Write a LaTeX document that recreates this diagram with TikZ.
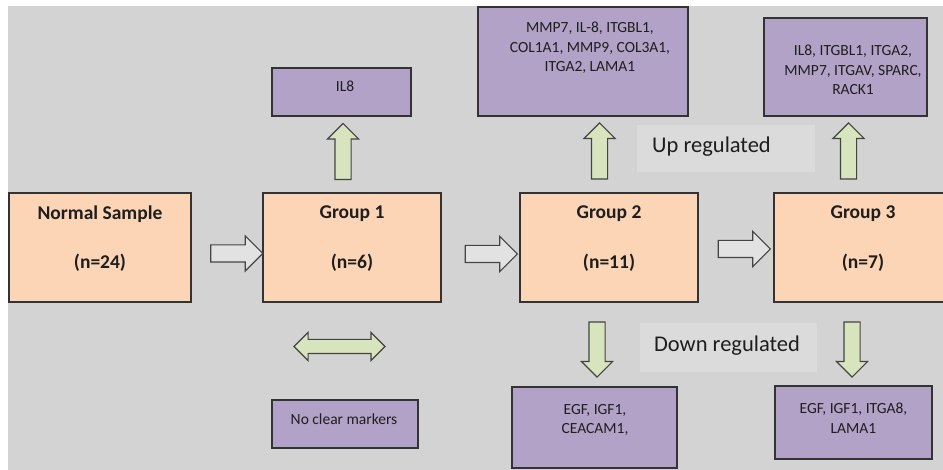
\documentclass[tikz,border=0pt]{standalone}
\usepackage{fontspec}
\setmainfont{Carlito}
\usetikzlibrary{shapes.arrows}
\definecolor{bg}{HTML}{D3D3D3}
\definecolor{peach}{HTML}{FBD5B5}
\definecolor{lilac}{HTML}{B3A2C7}
\definecolor{leaf}{HTML}{D7E4BD}
\definecolor{labfill}{HTML}{DBDBDB}
\definecolor{edgecol}{HTML}{333333}
\definecolor{arredge}{HTML}{444444}
\definecolor{hollowfill}{HTML}{E2E2E2}
\definecolor{ink}{HTML}{1E1E1E}
\begin{document}
\begin{tikzpicture}[x=1bp,y=-1bp,
  groupbox/.style={draw=edgecol, line width=1.3bp, fill=peach, inner sep=0pt},
  genebox/.style={draw=edgecol, line width=1.3bp, fill=lilac, inner sep=0pt},
  labbox/.style={fill=labfill, inner sep=0pt},
  gtxt/.style={font=\fontsize{19.5bp}{22bp}\selectfont\bfseries, text=ink, inner sep=0pt},
  genetxt/.style={font=\fontsize{15.5bp}{19.5bp}\selectfont, text=ink, align=center, inner sep=0pt, anchor=north},
  labtxt/.style={font=\fontsize{22.5bp}{24bp}\selectfont, text=ink, inner sep=0pt},
  hollow/.style={single arrow, draw=arredge, fill=hollowfill, line width=1.1bp,
    inner xsep=0pt, inner ysep=8bp, single arrow head extend=9bp, minimum height=52bp},
  greenup/.style={single arrow, draw=arredge, fill=leaf, line width=1.1bp, shape border rotate=90,
    inner ysep=0pt, inner xsep=7.5bp, single arrow head extend=7.5bp, minimum height=56bp},
  greendown/.style={greenup, shape border rotate=270, minimum height=55bp},
  greenboth/.style={double arrow, draw=arredge, fill=leaf, line width=1.1bp,
    inner xsep=0pt, inner ysep=6.5bp, double arrow head extend=7bp, minimum height=91bp}
]
\useasboundingbox (0,0) rectangle (943,470);
\clip (0,0) rectangle (943,470);
\fill[white] (0,0) rectangle (943,470);
\fill[bg] (8,6) rectangle (943,470);

% label backgrounds
\node[labbox, minimum width=178bp, minimum height=47bp] (uplab) at (726,148.5) {};
\node[labtxt] at (711.5,147) {Up regulated};
\node[labbox, minimum width=177bp, minimum height=49bp] (dnlab) at (728.5,347.5) {};
\node[labtxt] at (727,346) {Down regulated};

% main boxes
\node[groupbox, minimum width=182bp, minimum height=109bp] (ns) at (100,247.5) {};
\node[groupbox, minimum width=178bp, minimum height=109bp] (g1) at (352,247.5) {};
\node[groupbox, minimum width=178bp, minimum height=109bp] (g2) at (609,247.5) {};
\node[groupbox, minimum width=190bp, minimum height=109bp] (g3) at (869,247.5) {};
\node[gtxt] at (100,214) {Normal Sample};
\node[gtxt] at (100,263) {(n=24)};
\node[gtxt] at (352,214) {Group 1};
\node[gtxt] at (352,263) {(n=6)};
\node[gtxt] at (609,214) {Group 2};
\node[gtxt] at (609,263) {(n=11)};
\node[gtxt] at (863,214) {Group 3};
\node[gtxt] at (863,263) {(n=7)};

% gene boxes
\node[genebox, minimum width=139bp, minimum height=48bp] (il8) at (341.5,92) {};
\node[genetxt] at (345,81) {IL8};
\node[genebox, minimum width=210bp, minimum height=109bp] (up2) at (583,61.5) {};
\node[genetxt] at (590,22) {MMP7, IL-8, ITGBL1,\\COL1A1, MMP9, COL3A1,\\ITGA2, LAMA1};
\node[genebox, minimum width=163bp, minimum height=98bp] (up3) at (845.5,67) {};
\node[genetxt] at (853,45) {IL8, ITGBL1, ITGA2,\\MMP7, ITGAV, SPARC,\\RACK1};
\node[genebox, minimum width=146bp, minimum height=48bp] (ncm) at (345,424) {};
\node[genetxt] at (344,414) {No clear markers};
\node[genebox, minimum width=165bp, minimum height=81bp] (dn2) at (594.5,427.5) {};
\node[genetxt] at (595,404) {EGF, IGF1,\\CEACAM1,};
\node[genebox, minimum width=157bp, minimum height=73bp] (dn3) at (853.5,422.5) {};
\node[genetxt] at (853.5,403) {EGF, IGF1, ITGA8,\\LAMA1};

% hollow arrows between groups
\node[hollow] (a1) at (232.5,253.5) {};
\node[hollow] (a2) at (487,254) {};
\node[hollow] (a3) at (740,249) {};

% green arrows
\node[greenup] (u1) at (343,155.5) {};
\node[greenup] (u2) at (599.5,155) {};
\node[greenup] (u3) at (848.5,155) {};
\node[greendown] (d2) at (597,345.5) {};
\node[greendown] (d3) at (852,345.5) {};
\node[greenboth] (b1) at (339.5,346.5) {};
\end{tikzpicture}
\end{document}
